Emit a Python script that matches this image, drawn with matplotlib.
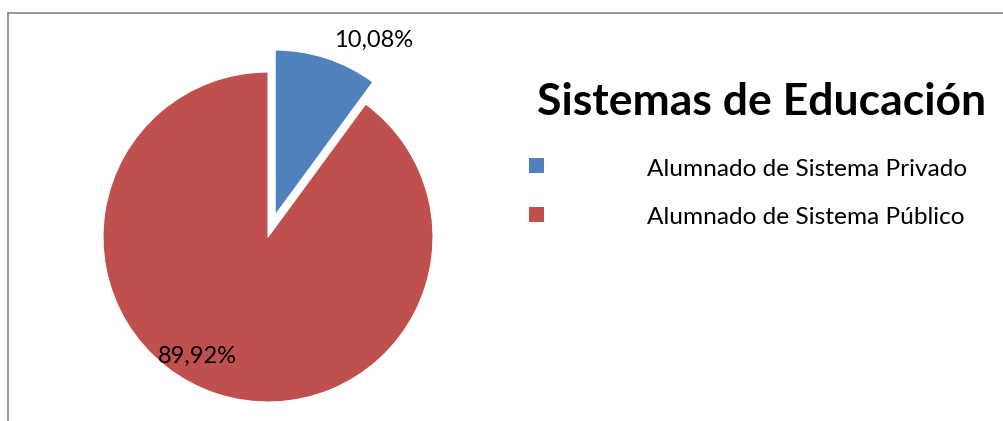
import matplotlib
matplotlib.use("Agg")
import matplotlib.pyplot as plt
from matplotlib.patches import Rectangle
from matplotlib.lines import Line2D

# Data
categories = ["Alumnado de Sistema Privado", "Alumnado de Sistema Público"]
values = [10.08, 89.92]
colors = ["#4F81BD", "#C0504D"]
title = "Sistemas de Educación"

W, H = 1004, 421
plt.rcParams['font.family'] = ['Lato', 'DejaVu Sans']
fig = plt.figure(figsize=(W / 100, H / 100), dpi=100)
fig.patch.set_facecolor("white")

# border (top & left visible)
fig.add_artist(Line2D([8.5 / W, 8.5 / W], [0, 1 - 13 / H], transform=fig.transFigure,
                      color="#868686", lw=1.2))
fig.add_artist(Line2D([8.5 / W, 1.0], [1 - 13 / H, 1 - 13 / H], transform=fig.transFigure,
                      color="#868686", lw=1.2))

# pie axes: center (268,237) radius 165 px
cx, cy, r = 268, 237, 165
ax = fig.add_axes([(cx - r) / W, (H - cy - r) / H, 2 * r / W, 2 * r / H])
wedges, _ = ax.pie(values, colors=colors, startangle=90, counterclock=False,
                   explode=[0.14, 0], radius=1,
                   wedgeprops=dict(edgecolor="white", linewidth=0.8))
ax.set_xlim(-1, 1)
ax.set_ylim(-1, 1)
ax.set_aspect('equal')
ax.axis('off')

label_pos = [(0.638, 1.19), (-0.43, -0.725)]
for v, (x, y) in zip(values, label_pos):
    ax.text(x, y, f"{v:.2f}".replace(".", ",") + "%", ha="center", va="center",
            fontsize=17, color="black", clip_on=False)

# title
fig.text(762 / W, 1 - 115 / H, title, ha="center", va="baseline",
         fontsize=32, fontweight="bold", color="black")

# legend
for i, (cat, col) in enumerate(zip(categories, colors)):
    ysq = 165.5 + 49 * i
    ybase = 176 + 48.5 * i
    fig.add_artist(Rectangle((529 / W, 1 - (ysq + 7.5) / H), 15 / W, 15 / H,
                             transform=fig.transFigure, facecolor=col, edgecolor="none"))
    fig.text(647 / W, 1 - ybase / H, cat, ha="left", va="baseline", fontsize=17.6,
             color="black")

fig.savefig("out.png", dpi=100, facecolor="white")
